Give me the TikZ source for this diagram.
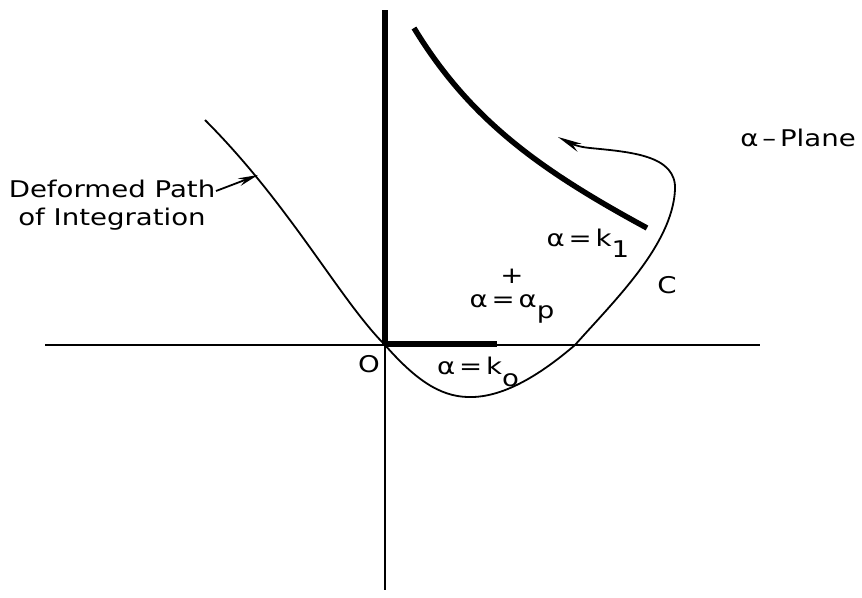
\documentclass[tikz,border=0pt]{standalone}
\usepackage{fontspec}
\setmainfont{DejaVu Sans}[FakeStretch=1.2]
\usetikzlibrary{arrows.meta}
\newcommand{\lowsub}[1]{\raisebox{-0.9ex}{#1}}
\begin{document}
\begin{tikzpicture}[x=1pt,y=-1pt,
    thinline/.style={line width=1.8pt},
    thickline/.style={line width=5.5pt},
    lbl/.style={font=\fontsize{23}{28}\selectfont, inner sep=0pt}]
  \useasboundingbox (0,0) rectangle (862,597);
  % axes and cuts
  \draw[thinline] (45,345) -- (760,345);
  \draw[thinline] (385,345) -- (385,590);
  \draw[thickline] (385,10) -- (385,345);
  \draw[thickline] (384,344) -- (497,344);
  \draw[thickline] (414,28) .. controls (470,120) and (540,170) .. (647,228);
  % contour C
  \draw[thinline,-{Stealth[length=24pt,width=9pt]}] (205,120) .. controls (290,205) and (340,300) .. (385,345)
    .. controls (420,385) and (445,398) .. (473,397)
    .. controls (505,396) and (540,375) .. (575,345)
    .. controls (615,300) and (672,245) .. (675,190)
    .. controls (677,155) and (630,152) .. (590,148)
    .. controls (578,147) and (570,143) .. (558,137);
  \coordinate (hit) at (258,175);
  % labels
  \node[lbl, align=center] (dpath) at (112,205) {Deformed Path\\ of Integration};
  \draw[thinline,-{Stealth[length=20pt,width=8pt]}] (216,191) -- (hit);
  \node[lbl, anchor=east] (plane) at (856,138) {α\,–\,Plane};
  \node[lbl] (kone) at (588,243) {α\,=\,k\lowsub{1}};
  \node[lbl] (cc) at (667,285) {C};
  \node[lbl] (pole) at (512,276) {+};
  \node[lbl] (ap) at (512,309) {α\,=\,α\lowsub{p}};
  \node[lbl] (orig) at (369,364) {O};
  \node[lbl] (kzero) at (478,372) {α\,=\,k\lowsub{o}};
\end{tikzpicture}
\end{document}
